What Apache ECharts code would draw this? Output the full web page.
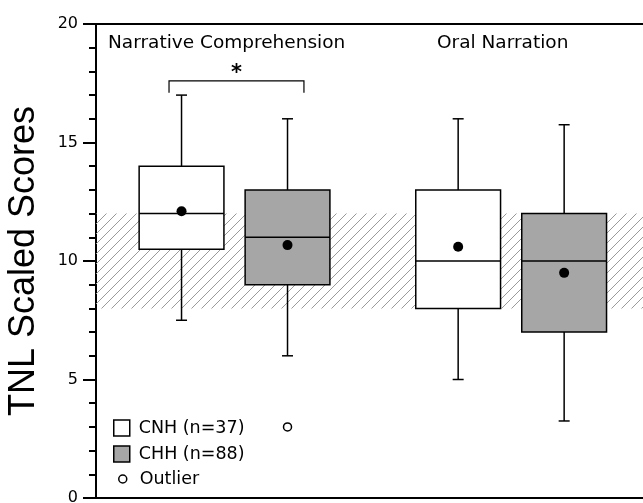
<!DOCTYPE html>
<html>
<head>
<meta charset="utf-8">
<script src="https://cdn.jsdelivr.net/npm/echarts@6/dist/echarts.min.js"></script>
<style>html,body{margin:0;padding:0;background:#fff}#c{width:643px;height:503px}</style>
</head>
<body>
<div id="c"></div>
<script>
// ---- data ----
const groupTitles = ['Narrative Comprehension', 'Oral Narration'];
const cnhX = [1, 3.61];
const chhX = [2, 4.61];
// [min, Q1, median, Q3, max]
const cnhBoxes = [[7.5, 10.5, 12, 14, 17], [5, 8, 10, 13, 16]];
const chhBoxes = [[6, 9, 11, 13, 16], [3.25, 7, 10, 12, 15.75]];
const cnhMeans = [12.1, 10.6];
const chhMeans = [10.67, 9.5];
const outlierX = [2];
const outlierY = [3];
const normalBand = [8, 12];
const sigBracket = [0.882, 2.155, 17.6, 17.1]; // x1, x2, yTop, yEnd
const yTicks = [0, 5, 10, 15, 20];

// hatch pattern
const pc = document.createElement('canvas');
pc.width = 10; pc.height = 10;
const g = pc.getContext('2d');
g.strokeStyle = '#9a9a9a'; g.lineWidth = 1;
g.beginPath();
g.moveTo(0, 10); g.lineTo(10, 0);
g.moveTo(-5, 5); g.lineTo(5, -5);
g.moveTo(5, 15); g.lineTo(15, 5);
g.stroke();

function boxData(xs, boxes) {
  return xs.map((x, i) => [x].concat(boxes[i]));
}
function renderBox(fill) {
  return function (params, api) {
    const x = api.value(0);
    const w = api.size([0.8, 0])[0];
    const cap = 11;
    const pMin = api.coord([x, api.value(1)]);
    const pQ1 = api.coord([x, api.value(2)]);
    const pMed = api.coord([x, api.value(3)]);
    const pQ3 = api.coord([x, api.value(4)]);
    const pMax = api.coord([x, api.value(5)]);
    const cx = pMed[0];
    const ls = { stroke: '#000', lineWidth: 1.5 };
    return {
      type: 'group',
      children: [
        { type: 'line', shape: { x1: cx, y1: pQ3[1], x2: cx, y2: pMax[1] }, style: ls },
        { type: 'line', shape: { x1: cx - cap / 2, y1: pMax[1], x2: cx + cap / 2, y2: pMax[1] }, style: ls },
        { type: 'line', shape: { x1: cx, y1: pQ1[1], x2: cx, y2: pMin[1] }, style: ls },
        { type: 'line', shape: { x1: cx - cap / 2, y1: pMin[1], x2: cx + cap / 2, y2: pMin[1] }, style: ls },
        { type: 'rect', shape: { x: cx - w / 2, y: pQ3[1], width: w, height: pQ1[1] - pQ3[1] },
          style: { fill: fill, stroke: '#000', lineWidth: 1.5 } },
        { type: 'line', shape: { x1: cx - w / 2, y1: pMed[1], x2: cx + w / 2, y2: pMed[1] }, style: ls }
      ]
    };
  };
}

const chart = echarts.init(document.getElementById('c'), null, { renderer: 'canvas' });
const font = '"DejaVu Sans", sans-serif';
chart.setOption({
  animation: false,
  backgroundColor: '#fff',
  grid: { left: 96, top: 24, right: 0, bottom: 5, containLabel: false, outerBoundsMode: 'none' },
  xAxis: [
    { type: 'value', min: 0.193, max: 5.354, position: 'bottom',
      axisLine: { show: true, onZero: false, lineStyle: { color: '#000', width: 2 } },
      axisTick: { show: false }, axisLabel: { show: false }, splitLine: { show: false } },
    { type: 'value', min: 0.193, max: 5.354, position: 'top',
      axisLine: { show: true, onZero: false, lineStyle: { color: '#000', width: 2 } },
      axisTick: { show: false }, axisLabel: { show: false }, splitLine: { show: false } }
  ],
  yAxis: {
    type: 'value', min: yTicks[0], max: yTicks[yTicks.length - 1], interval: 5,
    name: 'TNL Scaled Scores', nameLocation: 'middle', nameGap: 54, nameRotate: 90,
    nameTextStyle: { fontSize: 36, color: '#000', fontFamily: 'Liberation Sans, Arial, sans-serif' },
    axisLine: { show: true, lineStyle: { color: '#000', width: 2 } },
    axisTick: { show: true, length: 13, lineStyle: { color: '#000', width: 2 } },
    minorTick: { show: true, splitNumber: 5, length: 7, lineStyle: { color: '#000', width: 2 } },
    axisLabel: { margin: 18, fontSize: 16, color: '#000', fontFamily: font },
    splitLine: { show: false }
  },
  legend: [
    { orient: 'vertical', left: 113, top: 419, itemWidth: 16, itemHeight: 16, itemGap: 8,
      padding: 0, selectedMode: false,
      textStyle: { fontSize: 17.5, color: '#000', fontFamily: font, padding: [0, 0, 0, 4] },
      data: [
        { name: 'CNH (n=37)', icon: 'rect', itemStyle: { color: '#fff', borderColor: '#000', borderWidth: 1.5 } },
        { name: 'CHH (n=88)', icon: 'rect', itemStyle: { color: '#a6a6a6', borderColor: '#000', borderWidth: 1.5 } }
      ] },
    { orient: 'vertical', left: 118, top: 470, itemWidth: 8, itemHeight: 8, padding: 0, selectedMode: false,
      textStyle: { fontSize: 17.5, color: '#000', fontFamily: font, padding: [0, 0, 0, 8] },
      data: [{ name: 'Outlier', icon: 'circle', itemStyle: { color: '#fff', borderColor: '#000', borderWidth: 1.5, opacity: 1 } }] }
  ],
  graphic: [
    { type: 'text', left: 108, top: 34, style: { text: groupTitles[0], fontSize: 18.5, fill: '#000', fontFamily: font } },
    { type: 'text', left: 437, top: 34, style: { text: groupTitles[1], fontSize: 18.5, fill: '#000', fontFamily: font } }
  ],
  series: [
    { type: 'line', data: [], z: 1, silent: true,
      markArea: { silent: true, itemStyle: { color: { image: pc, repeat: 'repeat' } },
        data: [[{ yAxis: normalBand[0] }, { yAxis: normalBand[1] }]] } },
    { name: 'CNH (n=37)', type: 'custom', z: 3, data: boxData(cnhX, cnhBoxes), renderItem: renderBox('#fff'),
      itemStyle: { color: '#fff', borderColor: '#000' }, encode: { x: 0, y: [1, 2, 3, 4, 5] } },
    { name: 'CHH (n=88)', type: 'custom', z: 3, data: boxData(chhX, chhBoxes), renderItem: renderBox('#a6a6a6'),
      itemStyle: { color: '#a6a6a6', borderColor: '#000' }, encode: { x: 0, y: [1, 2, 3, 4, 5] } },
    { type: 'scatter', z: 4, symbolSize: 10, itemStyle: { color: '#000', opacity: 1 },
      data: cnhX.map((x, i) => [x, cnhMeans[i]]).concat(chhX.map((x, i) => [x, chhMeans[i]])) },
    { name: 'Outlier', type: 'scatter', z: 4, symbolSize: 8,
      itemStyle: { color: '#fff', borderColor: '#000', borderWidth: 1.5, opacity: 1 },
      data: outlierX.map((x, i) => [x, outlierY[i]]) },
    { type: 'custom', z: 4, data: [sigBracket], encode: { x: [0, 1], y: [2, 3] },
      renderItem: function (params, api) {
        const a = api.coord([api.value(0), api.value(2)]);
        const b = api.coord([api.value(1), api.value(2)]);
        const e = api.coord([api.value(0), api.value(3)]);
        const ls = { stroke: '#000', lineWidth: 1.2 };
        return { type: 'group', children: [
          { type: 'polyline', shape: { points: [[a[0], e[1]], a, b, [b[0], e[1]]] }, style: Object.assign({ fill: 'none' }, ls) },
          { type: 'text', x: (a[0] + b[0]) / 2, y: a[1] + 3,
            style: { text: '*', fontSize: 21, fontWeight: 'bold', fill: '#000', align: 'center', verticalAlign: 'bottom', fontFamily: font } }
        ] };
      } }
  ]
});
</script>
</body>
</html>
